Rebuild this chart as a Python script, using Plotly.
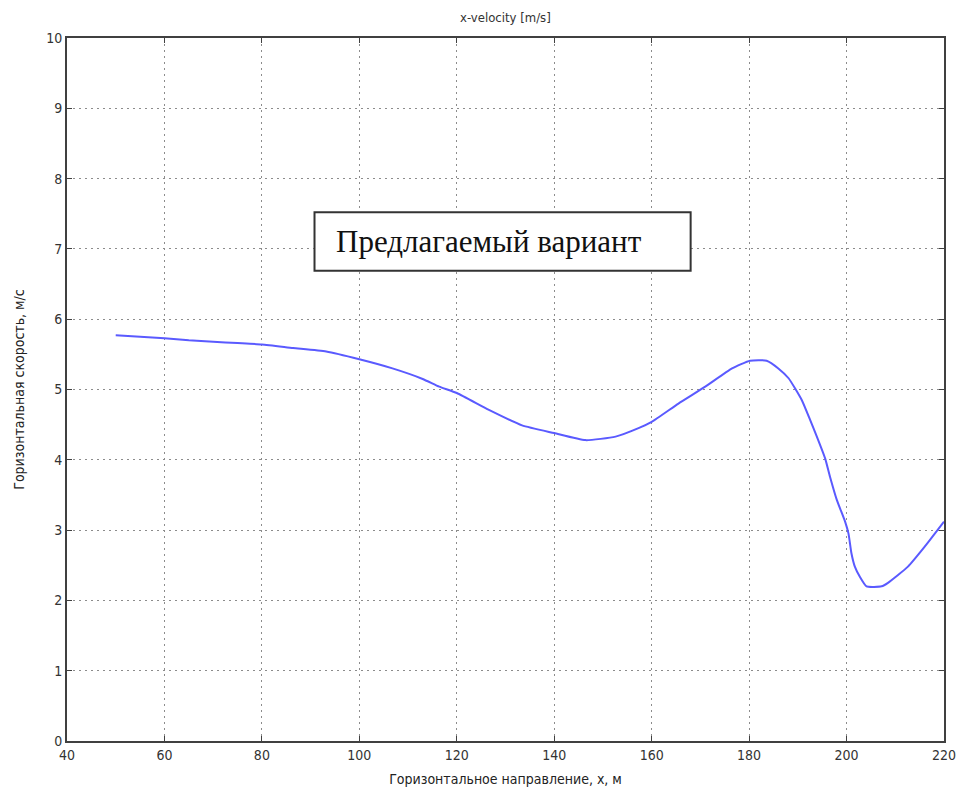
import plotly.graph_objects as go

# Horizontal velocity profile along the horizontal direction
x_pos = [50, 55, 60, 65, 70, 75, 80, 86.4, 93.2, 100, 106.8, 113, 116.4, 120, 126.6, 133.4,
         140, 146.4, 152.6, 157.3, 160, 165.5, 171, 176.5, 180.2, 183.6, 186, 188.1, 190.8,
         192.5, 193.9, 195.6, 196.6, 198.0, 199.7, 200.4, 201.0, 201.7, 202.7, 204.1,
         207.2, 208.5, 212.6, 216.0, 220]
velocity = [5.77, 5.75, 5.73, 5.70, 5.68, 5.66, 5.64, 5.59, 5.54, 5.43, 5.30, 5.15, 5.04, 4.95,
            4.71, 4.49, 4.38, 4.28, 4.33, 4.45, 4.54, 4.80, 5.04, 5.30, 5.41, 5.41, 5.30, 5.16,
            4.85, 4.57, 4.33, 4.02, 3.76, 3.43, 3.12, 2.95, 2.67, 2.48, 2.34, 2.20,
            2.20, 2.25, 2.48, 2.76, 3.12]

x_ticks = [40, 60, 80, 100, 120, 140, 160, 180, 200, 220]
y_ticks = list(range(0, 11))

chart_title = "x-velocity [m/s]"
x_title = "Горизонтальное направление, x, м"
y_title = "Горизонтальная скорость, м/с"
label_text = "Предлагаемый вариант"

SANS = "DejaVu Sans Condensed, DejaVu Sans"

fig = go.Figure()
fig.add_trace(go.Scatter(
    x=x_pos, y=velocity, mode="lines",
    line=dict(color="#5a5aff", width=2, shape="spline", smoothing=0.5),
    showlegend=False, hoverinfo="skip",
))

axis_common = dict(
    showline=True, linecolor="#404040", linewidth=2, mirror="allticks",
    ticks="inside", ticklen=5, tickcolor="#404040", tickwidth=1,
    showgrid=True, gridcolor="#8c8c8c", griddash="2px,4px", gridwidth=1,
    zeroline=False,
    tickfont=dict(family=SANS, size=14, color="#333333"),
    title_font=dict(family=SANS, size=14, color="#222222"),
)

fig.update_xaxes(range=[40, 220], tickvals=x_ticks, title_text=x_title,
                 title_standoff=12, **axis_common)
fig.update_yaxes(range=[0, 10], tickvals=y_ticks, title_text=y_title,
                 title_standoff=18, **axis_common)

fig.add_annotation(
    x=0.5, y=1.0, xref="paper", yref="paper", yanchor="bottom", yshift=11,
    text=chart_title, showarrow=False,
    font=dict(family=SANS, size=13, color="#333333"),
)

# framed caption inside the plot area
fig.add_shape(
    type="rect", xref="x", yref="y",
    x0=90.8, x1=168.0, y0=6.69, y1=7.52,
    line=dict(color="#333333", width=2), fillcolor="white", layer="above",
)
fig.add_annotation(
    x=94.9, y=7.105, xref="x", yref="y", xanchor="left", yanchor="middle",
    text=label_text, showarrow=False,
    font=dict(family="Liberation Serif, Times New Roman, serif", size=31, color="#111111"),
)

fig.update_layout(
    width=968, height=802,
    margin=dict(l=67, r=22, t=38, b=61),
    paper_bgcolor="white", plot_bgcolor="white",
)

fig.write_html("out.html")
